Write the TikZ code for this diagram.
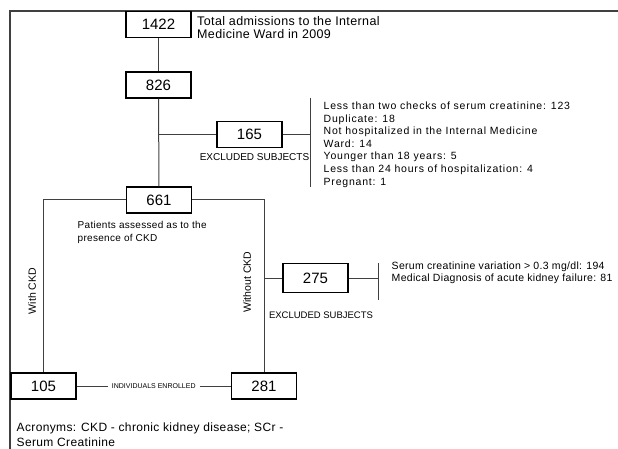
\documentclass[tikz,border=0pt]{standalone}
\usepackage{fontspec}
\setmainfont{Liberation Sans}
\newfontfamily\listfont{Liberation Sans}[LetterSpace=7.5]
\newfontfamily\loosefont{Liberation Sans}[LetterSpace=3.0]
\begin{document}
\begin{tikzpicture}[x=1pt,y=-1pt,
	box/.style={draw=black,line width=1.1pt,minimum width=65pt,minimum height=26pt,inner sep=0pt,font=\fontsize{15}{15}\selectfont},
	link/.style={draw=black!75,line width=1pt},
	note/.style={align=left,inner sep=0pt,font=\listfont\fontsize{10.5}{12.6}\selectfont},
	tag/.style={inner sep=0pt,font=\fontsize{9.5}{10}\selectfont}]
	\useasboundingbox (0,0) rectangle (618,449);
	% Frame
	\draw[black!75,line width=1.6pt] (618,11) -- (10,11) -- (10,449);
	% Boxes
	\node[box] (b1422) at (158.5,24.5) {1422};
	\node[box] (b826) at (158.5,85) {826};
	\node[box] (b165) at (249.5,134.5) {165};
	\node[box] (b661) at (159,200) {661};
	\node[box,minimum height=29pt] (b275) at (315.5,278) {275};
	\node[box] (b105) at (43.5,386) {105};
	\node[box] (b281) at (264,386) {281};
	% Bracket ends
	\coordinate (ex1top) at (310,98);
	\coordinate (ex1bot) at (310,187);
	\coordinate (ex2top) at (378,263);
	\coordinate (ex2bot) at (378,300);
	% Texts
	\node[note,anchor=west,font=\loosefont\fontsize{12.5}{13.5}\selectfont] (admit) at (197,27.5) {Total admissions to the Internal\\Medicine Ward in 2009};
	\node[note,anchor=west] (why1) at (323.5,144.5) {Less than two checks of serum creatinine: 123\\Duplicate: 18\\Not hospitalized in the Internal Medicine\\Ward: 14\\Younger than 18 years: 5\\Less than 24 hours of hospitalization: 4\\Pregnant: 1};
	\node[tag,font=\fontsize{10}{10}\selectfont] (exc1) at (254.5,157) {EXCLUDED SUBJECTS};
	\node[note,anchor=west,font=\loosefont\fontsize{10}{13}\selectfont] (assess) at (77.5,232.5) {Patients assessed as to the\\presence of CKD};
	\node[tag,rotate=90,font=\fontsize{10.5}{11}\selectfont] (with) at (32,291) {With CKD};
	\node[tag,rotate=90,font=\fontsize{10.5}{11}\selectfont] (without) at (247,282) {Without CKD};
	\node[tag] (exc2) at (321,315) {EXCLUDED SUBJECTS};
	\node[note,anchor=west,font=\loosefont\fontsize{10.5}{12}\selectfont] (why2) at (391.5,272.5) {Serum creatinine variation > 0.3 mg/dl: 194\\Medical Diagnosis of acute kidney failure: 81};
	\node[note,anchor=west,font=\loosefont\fontsize{12}{15}\selectfont] (acro) at (16.5,434.5) {Acronyms: CKD - chronic kidney disease; SCr -\\Serum Creatinine};
	% Connectors
	\draw[link] (b1422) -- (b826);
	\draw[link] (b826) -- (b661);
	\draw[link] (b826 |- b165.west) -- (b165.west);
	\draw[link] (b165.east) -- (ex1top |- b165.east);
	\draw[link] (ex1top) -- (ex1bot);
	\draw[link] (b661.west) -| (b105.north);
	\draw[link] (b661.east) -| (b281.north);
	\draw[link] (b281 |- b275.west) -- (b275.west);
	\draw[link] (b275.east) -- (ex2top |- b275.east);
	\draw[link] (ex2top) -- (ex2bot);
	\draw[link] (b105.east) -- (b281.west) node[midway,fill=white,inner sep=4pt,font=\fontsize{7}{7}\selectfont] {INDIVIDUALS ENROLLED};
\end{tikzpicture}
\end{document}
